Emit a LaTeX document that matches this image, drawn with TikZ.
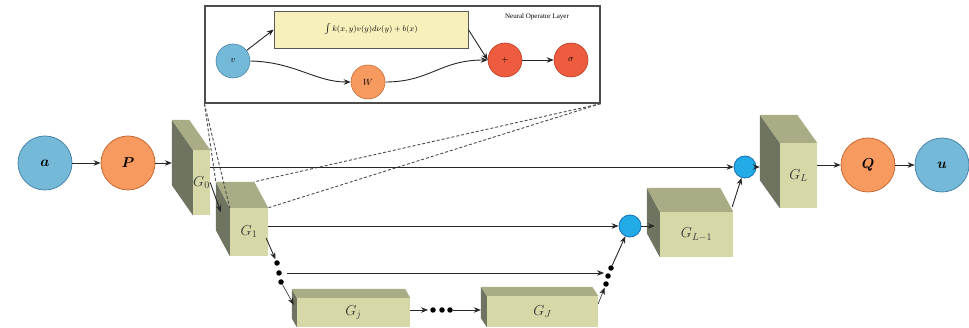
\documentclass[tikz,border=0pt]{standalone}
\usepackage{fontspec}
\setmainfont{Liberation Serif}
\usetikzlibrary{arrows.meta,calc}
\definecolor{cblue}{HTML}{74B9D8}
\definecolor{cbluedk}{HTML}{4A86A8}
\definecolor{corange}{HTML}{F79A60}
\definecolor{corangedk}{HTML}{C86A34}
\definecolor{cred}{HTML}{EE5C40}
\definecolor{creddk}{HTML}{B83A22}
\definecolor{ccyan}{HTML}{22ABE6}
\definecolor{ccyandk}{HTML}{1470B8}
\definecolor{cyel}{HTML}{F7F0BB}
\definecolor{cfront}{HTML}{D6D8A8}
\definecolor{ctop}{HTML}{A9AC84}
\definecolor{cside}{HTML}{6F7460}
\tikzset{
  arr/.style={-{Stealth[length=7pt,width=5.5pt]}, line width=0.9pt, black!85},
  thinarr/.style={-{Stealth[length=7pt,width=5.5pt]}, line width=0.6pt, black!85},
  bigc/.style={circle, minimum size=54pt, inner sep=0pt, line width=0.8pt, font=\Large\boldmath},
  smc/.style={circle, minimum size=34pt, inner sep=0pt, line width=0.6pt, font=\small},
  bluec/.style={fill=cblue, draw=cbluedk},
  orangec/.style={fill=corange, draw=corangedk},
  redc/.style={fill=cred, draw=creddk},
  sumc/.style={circle, minimum size=22pt, inner sep=0pt, fill=ccyan, draw=ccyandk, line width=0.8pt},
  dotn/.style={circle, fill=black, minimum size=5.5pt, inner sep=0pt},
  dashln/.style={densely dashed, gray!60!black, line width=0.9pt},
  cubefront/.style={fill=cfront},
  cubetop/.style={fill=ctop},
  cubeside/.style={fill=cside},
}
% name, cx, cy, w, h, dx, dy, label
\newcommand\gcube[8]{%
  \node[inner sep=0pt, minimum width=#4pt, minimum height=#5pt] (#1) at (#2,#3) {};
  \coordinate (#1-btl) at ($(#1.north west)+(#6,#7)$);
  \coordinate (#1-btr) at ($(#1.north east)+(#6,#7)$);
  \fill[cubeside] (#1.north west) -- (#1-btl) -- ($(#1.south west)+(#6,#7)$) -- (#1.south west) -- cycle;
  \fill[cubetop] (#1.north west) -- (#1-btl) -- (#1-btr) -- (#1.north east) -- cycle;
  \fill[cubefront] (#1.south west) rectangle (#1.north east);
  \node[font=\Large, inner sep=0pt, text=black!80] (#1-lab) at (#1) {#8};
}
\begin{document}
\begin{tikzpicture}[x=1pt, y=-1pt]
\useasboundingbox (0,0) rectangle (969,328);

% ---- inset: neural operator layer ----
\node[draw=gray!60!black, line width=1.3pt, minimum width=395pt, minimum height=97pt, inner sep=0pt] (frame) at (402.5,54.5) {};
\node[font=\fontsize{7}{8}\selectfont] (title) at (537,17) {Neural Operator Layer};
\node[smc, bluec] (v) at (233,61) {$v$};
\node[draw=gray!70!black, fill=cyel, line width=0.6pt, minimum width=194pt, minimum height=37pt, inner sep=0pt, font=\footnotesize] (box) at (371,29.5) {$\int k(x,y)v(y)d\nu(y) + b(x)$};
\node[smc, orangec] (W) at (368,82) {$W$};
\node[smc, redc] (plus) at (505,60) {$+$};
\node[smc, redc] (sigma) at (571,60) {$\sigma$};
\draw[arr] (v) -- (box.west);
\draw[arr] (v.east) .. controls (295,62) and (315,82) .. (W.west);
\draw[arr] (W.east) .. controls (430,82) and (440,60) .. (plus.west);
\draw[arr] (box.east) -- (plus.west);
\draw[arr] (plus) -- (sigma);

% ---- main chain ----
\node[bigc, bluec] (a) at (45,163) {$a$};
\node[bigc, orangec] (P) at (128,163) {$P$};
\gcube{G0}{201.5}{182.5}{17}{65}{-21}{-30}{$G_0$}
\gcube{G1}{249}{232}{38}{48}{-14}{-26}{$G_1$}
\gcube{Gj}{353.5}{312.5}{113}{29}{-5}{-9}{$G_j$}
\gcube{GJ}{542.5}{311.5}{111}{31}{-6}{-9}{$G_J$}
\gcube{GLm}{696.5}{234.5}{73}{45}{-13}{-24}{$G_{L-1}$}
\gcube{GL}{798.5}{175.5}{37}{65}{-20}{-28}{$G_L$}
\node[bigc, orangec] (Q) at (868,165) {$Q$};
\node[bigc, bluec] (u) at (942,165) {$u$};
\node[sumc] (s1) at (630,226) {};
\node[sumc] (s2) at (745,167) {};

\node[dotn] (d1) at (277,263) {};
\node[dotn] (d2) at (279,273) {};
\node[dotn] (d3) at (281,282) {};
\node[dotn] (e1) at (606,284) {};
\node[dotn] (e2) at (608,276) {};
\node[dotn] (e3) at (611,268) {};
\node[dotn] (f1) at (433,310) {};
\node[dotn] (f2) at (442,310) {};
\node[dotn] (f3) at (450,310) {};

% dashed projection lines
\draw[dashln] (frame.south west) -- (G1-btl);
\draw[dashln] (frame.south west) -- (G1.north west);
\draw[dashln] (frame.south east) -- (G1-btr);
\draw[dashln] (frame.south east) -- (G1.north east);

% connectors
\coordinate (g01e) at ($(G1.west)+(-9,-20)$);
\coordinate (gj-in) at ($(Gj.north west)+(-3,7)$);
\draw[arr] (a) -- (P);
\draw[arr] (P) -- (P -| G0-btl);
\draw[arr] (G0.east |- s2) -- (s2);
\draw[arr] (s2) -- (s2 -| GL-btl);
\draw[arr] (GL.east |- Q) -- (Q);
\draw[arr] (Q) -- (u);
\draw[arr] (G0.east) -- (g01e);
\draw[arr] (G1.east |- s1) -- (s1);
\draw[arr, shorten >=1pt] ($(G1.south east)+(-2,-18)$) -- (d1);
\draw[thinarr] (d3) -- (gj-in);
\draw[arr, shorten >=1pt] ($(d2.east)+(5,0)$) -- (d2 -| e2.west);
\draw[thinarr, shorten >=2pt] (Gj.east |- f1) -- (f1);
\draw[thinarr] (f3) -- (f3 -| GJ-btl);
\draw[thinarr, shorten >=1pt] ($(GJ.north east)+(0,8)$) -- (e1);
\draw[arr] (e3) -- (s1);
\draw[arr, shorten >=5pt] (s1) -- (s1 -| GLm.west);
\draw[arr] ($(GLm.north east)+(-1,-5)$) -- (s2);
\end{tikzpicture}
\end{document}
